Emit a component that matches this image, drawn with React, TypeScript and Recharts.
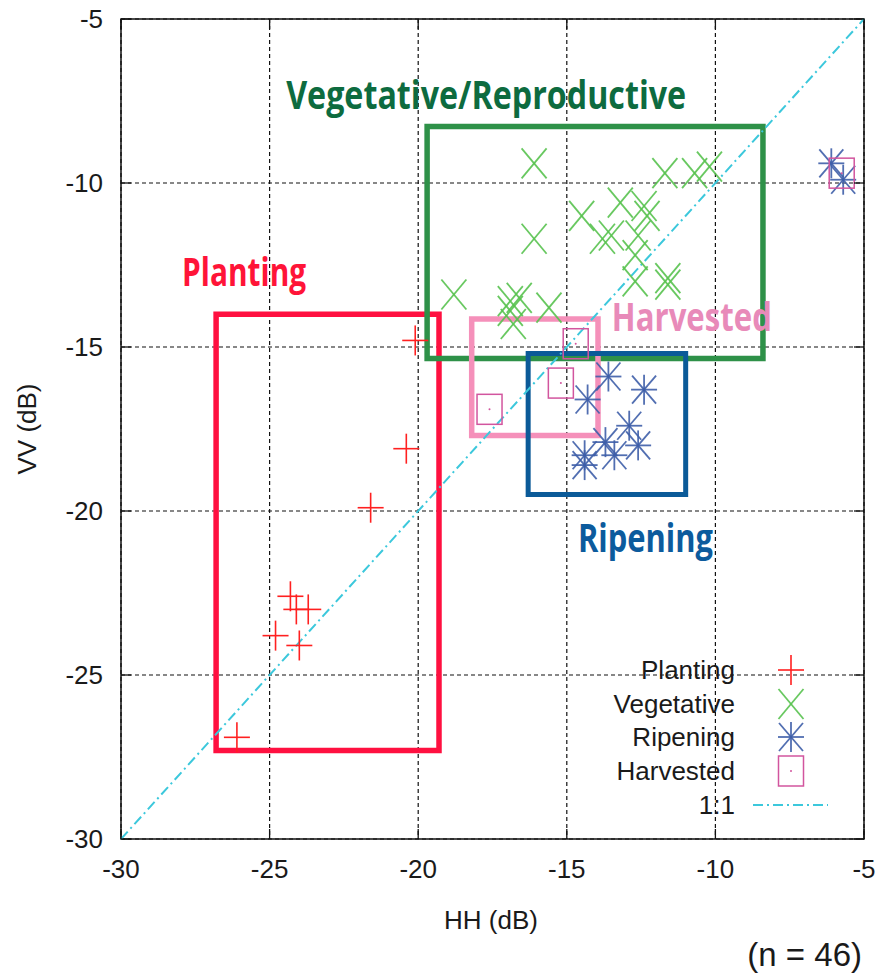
import React from "react";
import {
  ScatterChart,
  Scatter,
  XAxis,
  YAxis,
  CartesianGrid,
  ReferenceArea,
  ReferenceLine,
  ReferenceDot,
  Legend,
  Label,
} from "recharts";

// HH / VV backscatter (dB) per growth stage
const plantingHH = [-20.1, -20.4, -21.6, -24.3, -24.1, -23.7, -24.8, -24.0, -26.1];
const plantingVV = [-14.8, -18.1, -19.9, -22.6, -23.0, -23.0, -23.8, -24.1, -26.9];

const vegetativeHH = [
  -16.1, -16.1, -18.8, -16.9, -16.6, -16.9, -16.8, -15.6, -11.7, -10.7, -10.2,
  -14.5, -13.2, -12.4, -12.3, -13.8, -13.5, -12.6, -12.7, -12.7, -11.6, -11.6,
];
const vegetativeVV = [
  -9.4, -11.7, -13.4, -13.6, -13.5, -13.9, -14.3, -13.8, -9.7, -9.7, -9.5,
  -11.0, -10.6, -10.7, -11.0, -11.7, -11.6, -11.6, -12.2, -13.0, -12.9, -13.1,
];

const ripeningHH = [-13.6, -12.4, -14.3, -12.9, -13.7, -12.6, -13.4, -14.4, -14.4, -6.1, -5.7];
const ripeningVV = [-15.9, -16.3, -16.6, -17.4, -17.9, -18.0, -18.3, -18.3, -18.6, -9.4, -9.9];

const harvestedHH = [-14.7, -15.2, -17.6, -5.75];
const harvestedVV = [-14.9, -16.1, -16.9, -9.7];

const axisTicks = [-30, -25, -20, -15, -10, -5];

// stage boxes: [HH min, HH max, VV min, VV max]
const plantingBox = [-26.8, -19.3, -27.3, -14.0];
const vegetativeBox = [-19.7, -8.4, -15.35, -8.28];
const harvestedBox = [-18.2, -13.95, -17.7, -14.15];
const ripeningBox = [-16.3, -11.0, -19.5, -15.2];

const toPoints = (hh: number[], vv: number[]) => hh.map((x, i) => ({ x, y: vv[i] }));

const W = 877;
const H = 976;
const M = { top: 19, right: 13, left: 0, bottom: 0 };
const Y_AXIS_W = 121;
const X_AXIS_H = 137;
const PLOT_LEFT = M.left + Y_AXIS_W;
const PLOT_RIGHT = W - M.right;
const PLOT_TOP = M.top;
const PLOT_BOTTOM = H - M.bottom - X_AXIS_H;
const TICK_LEN = 10;

const FONT = "'Liberation Sans', Arial, Helvetica, sans-serif";
const TITLE_FONT = "'Open Sans', 'DejaVu Sans', sans-serif";

const PLUS_C = "#ff2020";
const CROSS_C = "#58c24f";
const STAR_C = "#3e5ea9";
const SQUARE_C = "#d2559e";
const ONE_C = "#3cc8dc";

const Plus = ({ cx, cy }: any) => (
  <g stroke={PLUS_C} strokeWidth={1.6}>
    <line x1={cx - 13} x2={cx + 13} y1={cy} y2={cy} />
    <line x1={cx} x2={cx} y1={cy - 15} y2={cy + 15} />
  </g>
);

const Cross = ({ cx, cy }: any) => (
  <g stroke={CROSS_C} strokeWidth={1.8} strokeOpacity={0.9}>
    <line x1={cx - 12.5} x2={cx + 12.5} y1={cy - 15} y2={cy + 15} />
    <line x1={cx - 12.5} x2={cx + 12.5} y1={cy + 15} y2={cy - 15} />
  </g>
);

const Star = ({ cx, cy }: any) => (
  <g stroke={STAR_C} strokeWidth={1.8} strokeOpacity={0.9}>
    <line x1={cx - 13} x2={cx + 13} y1={cy} y2={cy} />
    <line x1={cx} x2={cx} y1={cy - 15} y2={cy + 15} />
    <line x1={cx - 12} x2={cx + 12} y1={cy - 14} y2={cy + 14} />
    <line x1={cx - 12} x2={cx + 12} y1={cy + 14} y2={cy - 14} />
  </g>
);

const Square = ({ cx, cy }: any) => (
  <g>
    <rect x={cx - 12.5} y={cy - 15} width={25} height={30} fill="none" stroke={SQUARE_C} strokeWidth={1.5} />
    <circle cx={cx} cy={cy} r={1} fill={SQUARE_C} />
  </g>
);

const XTick = ({ x, payload }: any) => (
  <g>
    <line x1={x} x2={x} y1={PLOT_BOTTOM} y2={PLOT_BOTTOM - TICK_LEN} stroke="#111" strokeWidth={1.3} />
    <line x1={x} x2={x} y1={PLOT_TOP} y2={PLOT_TOP + TICK_LEN} stroke="#111" strokeWidth={1.3} />
    <text x={x} y={PLOT_BOTTOM + 39} textAnchor="middle" fontSize={26} fontFamily={FONT} fill="#1a1a1a">
      {payload.value}
    </text>
  </g>
);

const YTick = ({ y, payload }: any) => (
  <g>
    <line x1={PLOT_LEFT} x2={PLOT_LEFT + TICK_LEN} y1={y} y2={y} stroke="#111" strokeWidth={1.3} />
    <line x1={PLOT_RIGHT} x2={PLOT_RIGHT - TICK_LEN} y1={y} y2={y} stroke="#111" strokeWidth={1.3} />
    <text x={103} y={y + 9} textAnchor="end" fontSize={26} fontFamily={FONT} fill="#1a1a1a">
      {payload.value}
    </text>
  </g>
);

const legendRows = [
  { name: "Planting", Mark: Plus },
  { name: "Vegetative", Mark: Cross },
  { name: "Ripening", Mark: Star },
  { name: "Harvested", Mark: Square },
];

const LegendBox = () => (
  <div style={{ fontFamily: FONT, fontSize: 26, color: "#1a1a1a", lineHeight: 1 }}>
    {legendRows.map(({ name, Mark }) => (
      <div key={name} style={{ display: "flex", alignItems: "center", height: 33.7 }}>
        <span style={{ width: 145, textAlign: "right" }}>{name}</span>
        <svg width={100} height={34} style={{ overflow: "visible" }}>
          <Mark cx={56} cy={17} />
        </svg>
      </div>
    ))}
    <div style={{ display: "flex", alignItems: "center", height: 33.7 }}>
      <span style={{ width: 145, textAlign: "right" }}>1:1</span>
      <svg width={100} height={34}>
        <line x1={18} x2={93} y1={17} y2={17} stroke={ONE_C} strokeWidth={2} strokeDasharray="10 4 2 4" />
      </svg>
    </div>
  </div>
);

const stageLabel = (text: string, color: string, width: number) => ({ viewBox }: any) => (
  <text
    x={viewBox.x}
    y={viewBox.y}
    fontFamily={TITLE_FONT}
    fontWeight={700}
    fontSize={40}
    fill={color}
    textLength={width}
    lengthAdjust="spacingAndGlyphs"
  >
    {text}
  </text>
);

const box = (b: number[], color: string, sw: number) => (
  <ReferenceArea
    x1={b[0]}
    x2={b[1]}
    y1={b[2]}
    y2={b[3]}
    fill="none"
    fillOpacity={0}
    stroke={color}
    strokeWidth={sw}
    ifOverflow="visible"
  />
);

export default function App() {
  return (
    <div style={{ position: "absolute", left: 0, top: 0, width: W, height: H, background: "#fff" }}>
      <ScatterChart width={W} height={H} margin={M}>
        <CartesianGrid stroke="#111" strokeDasharray="4 3" strokeWidth={1.2} />
        <XAxis
          type="number"
          dataKey="x"
          domain={[-30, -5]}
          ticks={axisTicks}
          allowDataOverflow
          height={X_AXIS_H}
          axisLine={false}
          tickLine={false}
          tickSize={0}
          tickMargin={0}
          tick={<XTick />}
          interval={0}
        >
          <Label
            content={() => (
              <g fontFamily={FONT} fill="#1a1a1a">
                <text x={491} y={929} textAnchor="middle" fontSize={26}>HH (dB)</text>
                <text x={862} y={966} textAnchor="end" fontSize={33}>(n = 46)</text>
              </g>
            )}
          />
        </XAxis>
        <YAxis
          type="number"
          dataKey="y"
          domain={[-30, -5]}
          ticks={axisTicks}
          allowDataOverflow
          width={Y_AXIS_W}
          axisLine={false}
          tickLine={false}
          tickSize={0}
          tickMargin={0}
          tick={<YTick />}
          interval={0}
        >
          <Label
            content={() => (
              <text
                transform={`translate(36, ${(PLOT_TOP + PLOT_BOTTOM) / 2}) rotate(-90)`}
                textAnchor="middle"
                fontSize={26}
                fontFamily={FONT}
                fill="#1a1a1a"
              >
                VV (dB)
              </text>
            )}
          />
        </YAxis>

        {box([-30, -5, -30, -5], "#111", 1.5)}
        <ReferenceLine
          segment={[{ x: -30, y: -30 }, { x: -5, y: -5 }]}
          stroke={ONE_C}
          strokeWidth={2}
          strokeDasharray="10 4 2 4"
          ifOverflow="visible"
        />

        {box(plantingBox, "#ff1040", 5.5)}
        {box(vegetativeBox, "#2e9148", 5.5)}
        {box(harvestedBox, "#f590ba", 5.5)}
        {box(ripeningBox, "#0b5a98", 5)}

        <Scatter name="Planting" data={toPoints(plantingHH, plantingVV)} shape={<Plus />} isAnimationActive={false} />
        <Scatter name="Vegetative" data={toPoints(vegetativeHH, vegetativeVV)} shape={<Cross />} isAnimationActive={false} />
        <Scatter name="Ripening" data={toPoints(ripeningHH, ripeningVV)} shape={<Star />} isAnimationActive={false} />
        <Scatter name="Harvested" data={toPoints(harvestedHH, harvestedVV)} shape={<Square />} isAnimationActive={false} />

        <ReferenceDot x={-24.41} y={-7.77} r={1} fillOpacity={0} stroke="none" ifOverflow="visible"
          label={{ content: stageLabel("Vegetative/Reproductive", "#0d6b3f", 400) }} />
        <ReferenceDot x={-27.91} y={-13.17} r={1} fillOpacity={0} stroke="none" ifOverflow="visible"
          label={{ content: stageLabel("Planting", "#ff1438", 124) }} />
        <ReferenceDot x={-13.45} y={-14.54} r={1} fillOpacity={0} stroke="none" ifOverflow="visible"
          label={{ content: stageLabel("Harvested", "#e88ab9", 160) }} />
        <ReferenceDot x={-14.59} y={-21.28} r={1} fillOpacity={0} stroke="none" ifOverflow="visible"
          label={{ content: stageLabel("Ripening", "#0c5b9d", 135) }} />

        <Legend
          layout="vertical"
          align="center"
          verticalAlign="middle"
          content={() => <LegendBox />}
          wrapperStyle={{ left: 590, top: 653, width: 250, height: 170 }}
        />
      </ScatterChart>
    </div>
  );
}
